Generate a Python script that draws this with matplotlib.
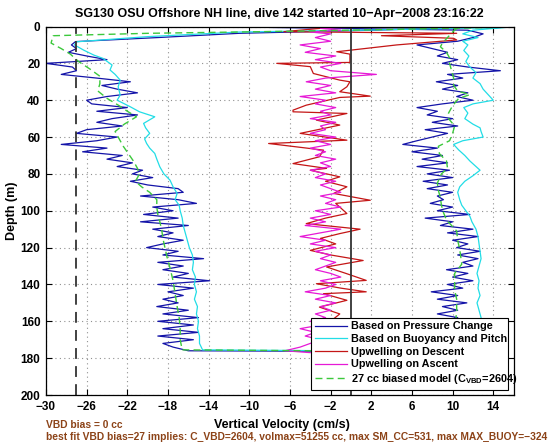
import numpy as np
import matplotlib
matplotlib.use("Agg")
import matplotlib.pyplot as plt

plt.rcParams['font.family'] = ['Liberation Sans', 'DejaVu Sans']
plt.rcParams['font.weight'] = 'bold'
plt.rcParams['mathtext.fontset'] = 'custom'
plt.rcParams['mathtext.rm'] = 'Liberation Sans:bold'
plt.rcParams['mathtext.bf'] = 'Liberation Sans:bold'
plt.rcParams['mathtext.it'] = 'Liberation Sans:bold'

# ---------------- data ----------------
# Based on Pressure Change (descent, then ascent)
blue_desc_depth = [0.5, 2, 3.7, 6, 8.2, 10, 12, 14, 16, 18, 20, 22, 24, 26, 28, 30, 32, 34, 36, 38,
                   40, 42, 44, 46, 48, 50, 52, 54, 56, 58, 60, 62, 64, 66, 68, 70, 72, 74, 76, 78,
                   80, 82, 84, 86, 88, 90, 92, 94, 96, 98, 100, 102, 104, 106, 108, 110, 112, 114, 116, 118,
                   120, 122, 124, 126, 128, 130, 132, 134, 136, 138, 140, 142, 144, 146, 148, 150, 152, 154, 156, 158,
                   160, 162, 164, 166, 168, 170, 172, 174, 176]
blue_desc_vel = [12, 2, -11, -19, -27.1, -27.5, -27, -27.8, -26, -24, -30, -27.4, -27, -28.5, -25, -21.7, -24.5, -23, -21, -24,
                 -26, -25.5, -22, -25, -21, -23.5, -25, -22.5, -26, -27, -23, -25, -28.5, -24, -26.4, -22.5, -24, -21.5, -23, -20.5,
                 -21.5, -19.5, -21.7, -20, -17, -16.5, -20.7, -17, -15.2, -19.5, -17.5, -20.4, -17, -20.7, -16, -19.5, -17.5, -19, -16.5, -18.5,
                 -20.1, -17, -18.5, -14.5, -19, -16.5, -18.5, -16, -17.5, -13.9, -19, -15.5, -18, -16.5, -18.5, -17, -19.1, -16, -18.5, -15,
                 -19, -15.5, -18.5, -15, -19, -15.5, -18.5, -17.5, -16]
blue_asc_depth = [0.5, 2, 4, 6, 8, 10, 12, 14, 16, 18, 20, 22, 24, 26, 28, 30, 32, 34, 36, 38,
                  40, 42, 44, 46, 48, 50, 52, 54, 56, 58, 60, 62, 64, 66, 68, 70, 72, 74, 76, 78,
                  80, 82, 84, 86, 88, 90, 92, 94, 96, 98, 100, 102, 104, 106, 108, 110, 112, 114, 116, 118,
                  120, 122, 124, 126, 128, 130, 132, 134, 136, 138, 140, 142, 144, 146, 148, 150, 152, 154, 156, 158,
                  160, 162, 164, 166, 168, 170, 172, 174, 176.5]
blue_asc_vel = [-8, 11.5, 13, 12, 10.5, 6.5, 8, 9.5, 8.5, 10.5, 9, 11.5, 14.7, 9.5, 11, 8.4, 10.5, 9, 11.5, 10.4,
                12, 9, 6.5, 8.5, 7.5, 10, 8, 10.5, 7.3, 9.5, 8, 6.5, 5.1, 8.5, 6, 9, 7, 9.5, 6.5, 9.7,
                7.5, 10, 7.1, 9.5, 7.5, 10, 8.5, 9.1, 7.8, 10, 8.5, 11.7, 7.3, 10, 8.8, 12, 9.5, 12.5, 10, 11.5,
                10.4, 12.7, 10.5, 12.5, 11, 12, 9.4, 11.5, 10, 12, 9.5, 11, 7.9, 10.5, 8.5, 11.4, 9, 10.5, 8.5, 10.5,
                9, 11, 9.5, 10.5, 9, 10.5, 9.5, 10, 10]

# Based on Buoyancy and Pitch
cyan_desc_depth = [0.5, 2, 3, 5.5, 8.3, 10, 12.8, 15.5, 17.3, 20.9, 23.6, 26, 29.1, 32.7, 37.2, 40, 43.6, 46.3, 49, 52.6,
                   55, 58, 61, 63.5, 66, 68.9, 72, 76.2, 80, 83.4, 87, 90.6, 94, 97, 100, 104, 108, 112, 116, 120,
                   124, 128, 132, 136, 140, 144, 148, 152, 156, 160, 164, 168, 172, 175.5]
cyan_desc_vel = [15, 1, -11, -20, -27, -27.2, -26.3, -25.3, -24.4, -23.5, -23.7, -23.2, -22.7, -22.9, -22.7, -23, -21.7, -20.8, -19.3, -20.4,
                 -20.2, -19.8, -20.3, -20.1, -19.8, -19.3, -19.1, -18.8, -18.4, -17.8, -17.5, -17.1, -17.3, -16.9, -16.8, -16.6, -16.5, -16.3, -16.1, -15.9,
                 -15.6, -15.5, -15.6, -15.3, -15.4, -15.2, -15.4, -15.1, -15.2, -15, -15.1, -14.9, -14.9, -14.6]
cyan_asc_depth = [0.5, 2, 4, 6, 8, 10, 13, 16, 19, 22, 25, 28, 31, 34, 37, 40, 42, 44, 47, 50,
                  53, 55, 57, 60, 62, 64, 67, 70, 73, 76, 78, 81, 84, 87, 90, 94, 97, 100, 103, 106,
                  110, 114, 118, 122, 126, 130, 134, 138, 142, 146, 150, 154, 158, 162, 166, 170, 174, 176.5]
cyan_asc_vel = [15.2, 12, 11, 12.5, 11, 11.5, 11.1, 11.6, 11.3, 11.7, 12.3, 12, 12.7, 13, 13.5, 14, 12, 11.1, 11.5, 11.2,
                12, 12.7, 12.8, 13, 11, 10.1, 10.6, 11.2, 11.7, 12.3, 12.7, 12, 11.2, 10.7, 10.5, 10.7, 10.9, 11.3, 11.7, 11.9,
                12.3, 12.5, 12.6, 12.7, 12.8, 12.6, 12.4, 12.6, 12.5, 12.7, 12.4, 12.6, 12.8, 12.7, 12.5, 12.6, 12.5, 12]

# Upwelling on Descent
red_depth = [0.5, 2.8, 3.7, 5, 6.4, 7.3, 10, 13.7, 15, 19.5, 20, 21.8, 25.5, 29.1, 30, 32.7, 35.4, 37.8, 38.5, 42.7,
             45.4, 46.3, 47.2, 50.8, 53.5, 58, 61.7, 63.5, 67.1, 70.7, 74.4, 77, 78, 81.6, 84, 87, 90.6, 94.3, 96, 98,
             101.5, 104, 107, 110, 112.4, 115, 118, 121.5, 124, 127, 130.5, 134, 137.8, 139.6, 142, 144, 145, 148.6, 152.3, 156,
             160, 164, 168, 172, 176]
red_vel = [-2, -6.6, 10.4, 3, 10.1, 10.4, 4.5, -1.4, -0.1, -0.1, -7.3, -4.0, -3.7, -1.1, -0.1, -0.4, -1.1, 1.9, -1.1, -4.4,
           -5.7, -5.7, -0.4, -3.4, -1.1, -5, -0.4, -8.1, -2.7, -3.1, -5.7, -2.4, -4.0, -1.1, -2.5, -0.4, -1.7, 1.9, -1.5, -1.1,
           -0.4, -2.5, -4.4, 0.9, -1.1, -3, -1.5, -4, -2, 1.2, -2.4, -0.5, 1.5, -3.4, -1, 1.5, -2.7, -0.4, -3.1, -1.1,
           -2, -1, -3, -2, -2.5]

# Upwelling on Ascent
mag_depth = [0.5, 1, 2, 3, 4, 6, 8, 10, 12, 14, 16, 18, 20, 22, 24, 26, 28, 30, 32, 34,
             36, 38, 40, 42, 44, 46, 48, 50, 52, 54, 56, 58, 60, 62, 64, 66, 68, 70, 72, 74,
             76, 78, 80, 82, 84, 86, 88, 90, 92, 94, 96, 98, 100, 102, 104, 106, 108, 110, 112, 114,
             116, 118, 120, 122, 124, 126, 128, 130, 132, 134, 136, 138, 140, 142, 144, 146, 148, 150, 152, 154,
             156, 158, 160, 162, 164, 166, 168, 170, 172, 174, 176, 177]
mag_vel = [0, -3, -1, -4, -2, -3.5, -2, -5, -3, -4.5, -1.5, -3.5, -1, -3, -2, 2.5, -2.5, -4.4, -2, -3.5,
           -1.5, -5, -2.5, -3.5, -1.5, -3, -2, -4, -1.5, -3, -2.5, -4, -1.5, -3.5, -2, -4, -2.5, -3.5, -1.5, -3,
           -2, -4, -2.5, -3.5, -1.5, -3, -2, -1, -3, -1.5, -2.5, -1, -3.5, -2, -4, -2.5, -4.5, -1, -3, -5,
           -2.5, -4, -1.5, -3.5, -2, -3, -1.5, -2.5, -3.5, -2, -1, -3, -1.5, -2.5, -4.5, -2, -3.5, -1.5, -3, -2,
           -3.5, -2.5, -4, -3, -5, -3.5, -4.5, -3, -4, -5, -6.5, -4]

# 27 cc biased model
green_desc_depth = [0.5, 2.5, 3.7, 5, 9, 12, 15, 19, 23, 27, 31, 35, 39, 43, 46, 49, 53, 57, 61, 65,
                    69, 73, 77, 80, 84, 87, 90, 94, 98, 102, 106, 111, 115, 120, 125, 131, 138, 145, 152, 158,
                    164, 170, 175.5]
green_desc_vel = [14, -5, -20, -29.3, -29.5, -28.5, -27.6, -26.8, -25.7, -24.7, -24.7, -24.9, -24, -22.8, -22, -21.1, -22.3, -23.2, -22.8, -22.4,
                  -21.9, -21.4, -21, -20.8, -21.2, -20.6, -19.8, -19.1, -19.1, -19, -18.8, -18.6, -18.5, -18.3, -18.1, -17.8, -17.5, -17.3, -17.1, -16.9,
                  -16.8, -16.8, -16.6]
green_asc_depth = [0.5, 3, 6, 9, 11, 14, 17, 20, 24, 28, 32, 35, 37, 39, 43, 47, 50, 54, 58, 62,
                   65, 69, 73, 77, 80, 85, 89, 93, 97, 101, 105, 108, 111, 116, 121, 125, 129, 134, 139, 143,
                   148, 154, 160, 166, 171, 176.5]
green_asc_vel = [10.5, 10, 9.5, 9, 8.8, 9.4, 9.7, 9.7, 9.9, 10.1, 10.1, 10.5, 11.7, 10.6, 10, 9.6, 9.6, 10.2, 10, 9.7,
                 8.6, 8.7, 9.4, 9.5, 8.9, 8.5, 8.6, 8.8, 8.9, 9.1, 9.4, 9.9, 10.4, 10.5, 10.7, 10.8, 10.9, 10.2, 10.2, 10.2,
                 10.4, 10.4, 10.3, 10.2, 10.1, 10]

vbd_bias_line = -27
x_ticks = [-30, -26, -22, -18, -14, -10, -6, -2, 2, 6, 10, 14]
y_ticks = [0, 20, 40, 60, 80, 100, 120, 140, 160, 180, 200]

labels = ['Based on Pressure Change', 'Based on Buoyancy and Pitch',
          'Upwelling on Descent', 'Upwelling on Ascent',
          r'27 cc biased model (C$_{\mathbf{VBD}}$=2604)']

# ---------------- plot ----------------
fig = plt.figure(figsize=(5.6, 4.42), dpi=100)
ax = fig.add_axes([46 / 560, 47 / 442, 467.6 / 560, 368.5 / 442])


def full(desc_d, desc_v, asc_d, asc_v):
    d = list(desc_d) + list(asc_d)[::-1]
    v = list(desc_v) + list(asc_v)[::-1]
    return v, d


bv, bd = full(blue_desc_depth, blue_desc_vel, blue_asc_depth, blue_asc_vel)
cv, cd = full(cyan_desc_depth, cyan_desc_vel, cyan_asc_depth, cyan_asc_vel)
gv, gd = full(green_desc_depth, green_desc_vel, green_asc_depth, green_asc_vel)

l1, = ax.plot(bv, bd, color='#1414a8', lw=0.9)
l2, = ax.plot(cv, cd, color='#22dde6', lw=0.9)
l3, = ax.plot(red_vel, red_depth, color='#c41616', lw=0.9)
l4, = ax.plot(mag_vel, mag_depth, color='#e619d6', lw=0.9)
l5, = ax.plot(gv, gd, color='#3cc83c', lw=1.0, ls=(0, (5, 3)))

ax.axvline(vbd_bias_line, color='#333333', lw=1.3, ls=(0, (6, 4)))
ax.axvline(0, color='#333333', lw=1.3)

ax.set_xlim(-30, 16)
ax.set_ylim(200, 0)
ax.set_xticks(x_ticks)
ax.set_xticklabels([str(t).replace('-', '\u2212') for t in x_ticks])
ax.set_yticks(y_ticks)
ax.grid(True, color='#909090', ls=(0, (1, 3)), lw=0.8)
ax.tick_params(direction='in', top=True, right=True, length=4, width=0.8,
               labelsize=8.5, pad=4)
for lab in ax.get_xticklabels() + ax.get_yticklabels():
    lab.set_fontweight('bold')
for s in ax.spines.values():
    s.set_linewidth(0.9)

leg = ax.legend([l1, l2, l3, l4, l5], labels, loc='lower left',
                bbox_to_anchor=(0.567, 0.0136, 0.421, 0.203), mode='expand',
                borderaxespad=0, fancybox=False, framealpha=1, edgecolor='black',
                fontsize=7.8, handlelength=3.0, handletextpad=0.35,
                labelspacing=0.25, borderpad=0.35)
leg.get_frame().set_linewidth(0.8)
for t in leg.get_texts():
    t.set_fontweight('bold')

fig.text(0.4996, 1 - 14.4 / 442,
         'SG130 OSU Offshore NH line, dive 142 started 10\u2212Apr\u22122008 23:16:22',
         ha='center', va='center', fontsize=9, fontweight='bold')
fig.text(282 / 560, 1 - 425 / 442, 'Vertical Velocity (cm/s)', ha='center', va='center',
         fontsize=9, fontweight='bold')
fig.text(12 / 560, 1 - 211 / 442, 'Depth (m)', ha='center', va='center', rotation=90,
         fontsize=9, fontweight='bold')
brown = '#8c4318'
fig.text(46.5 / 560, 1 - 425 / 442, 'VBD bias = 0 cc', ha='left', va='center',
         fontsize=7.4, fontweight='bold', color=brown)
fig.text(46.5 / 560, 1 - 437 / 442,
         'best fit VBD bias=27 implies: C_VBD=2604, volmax=51255 cc, max SM_CC=531, max MAX_BUOY=\u2212324',
         ha='left', va='center', fontsize=7.4, fontweight='bold', color=brown)

fig.savefig('out.png', dpi=100)
